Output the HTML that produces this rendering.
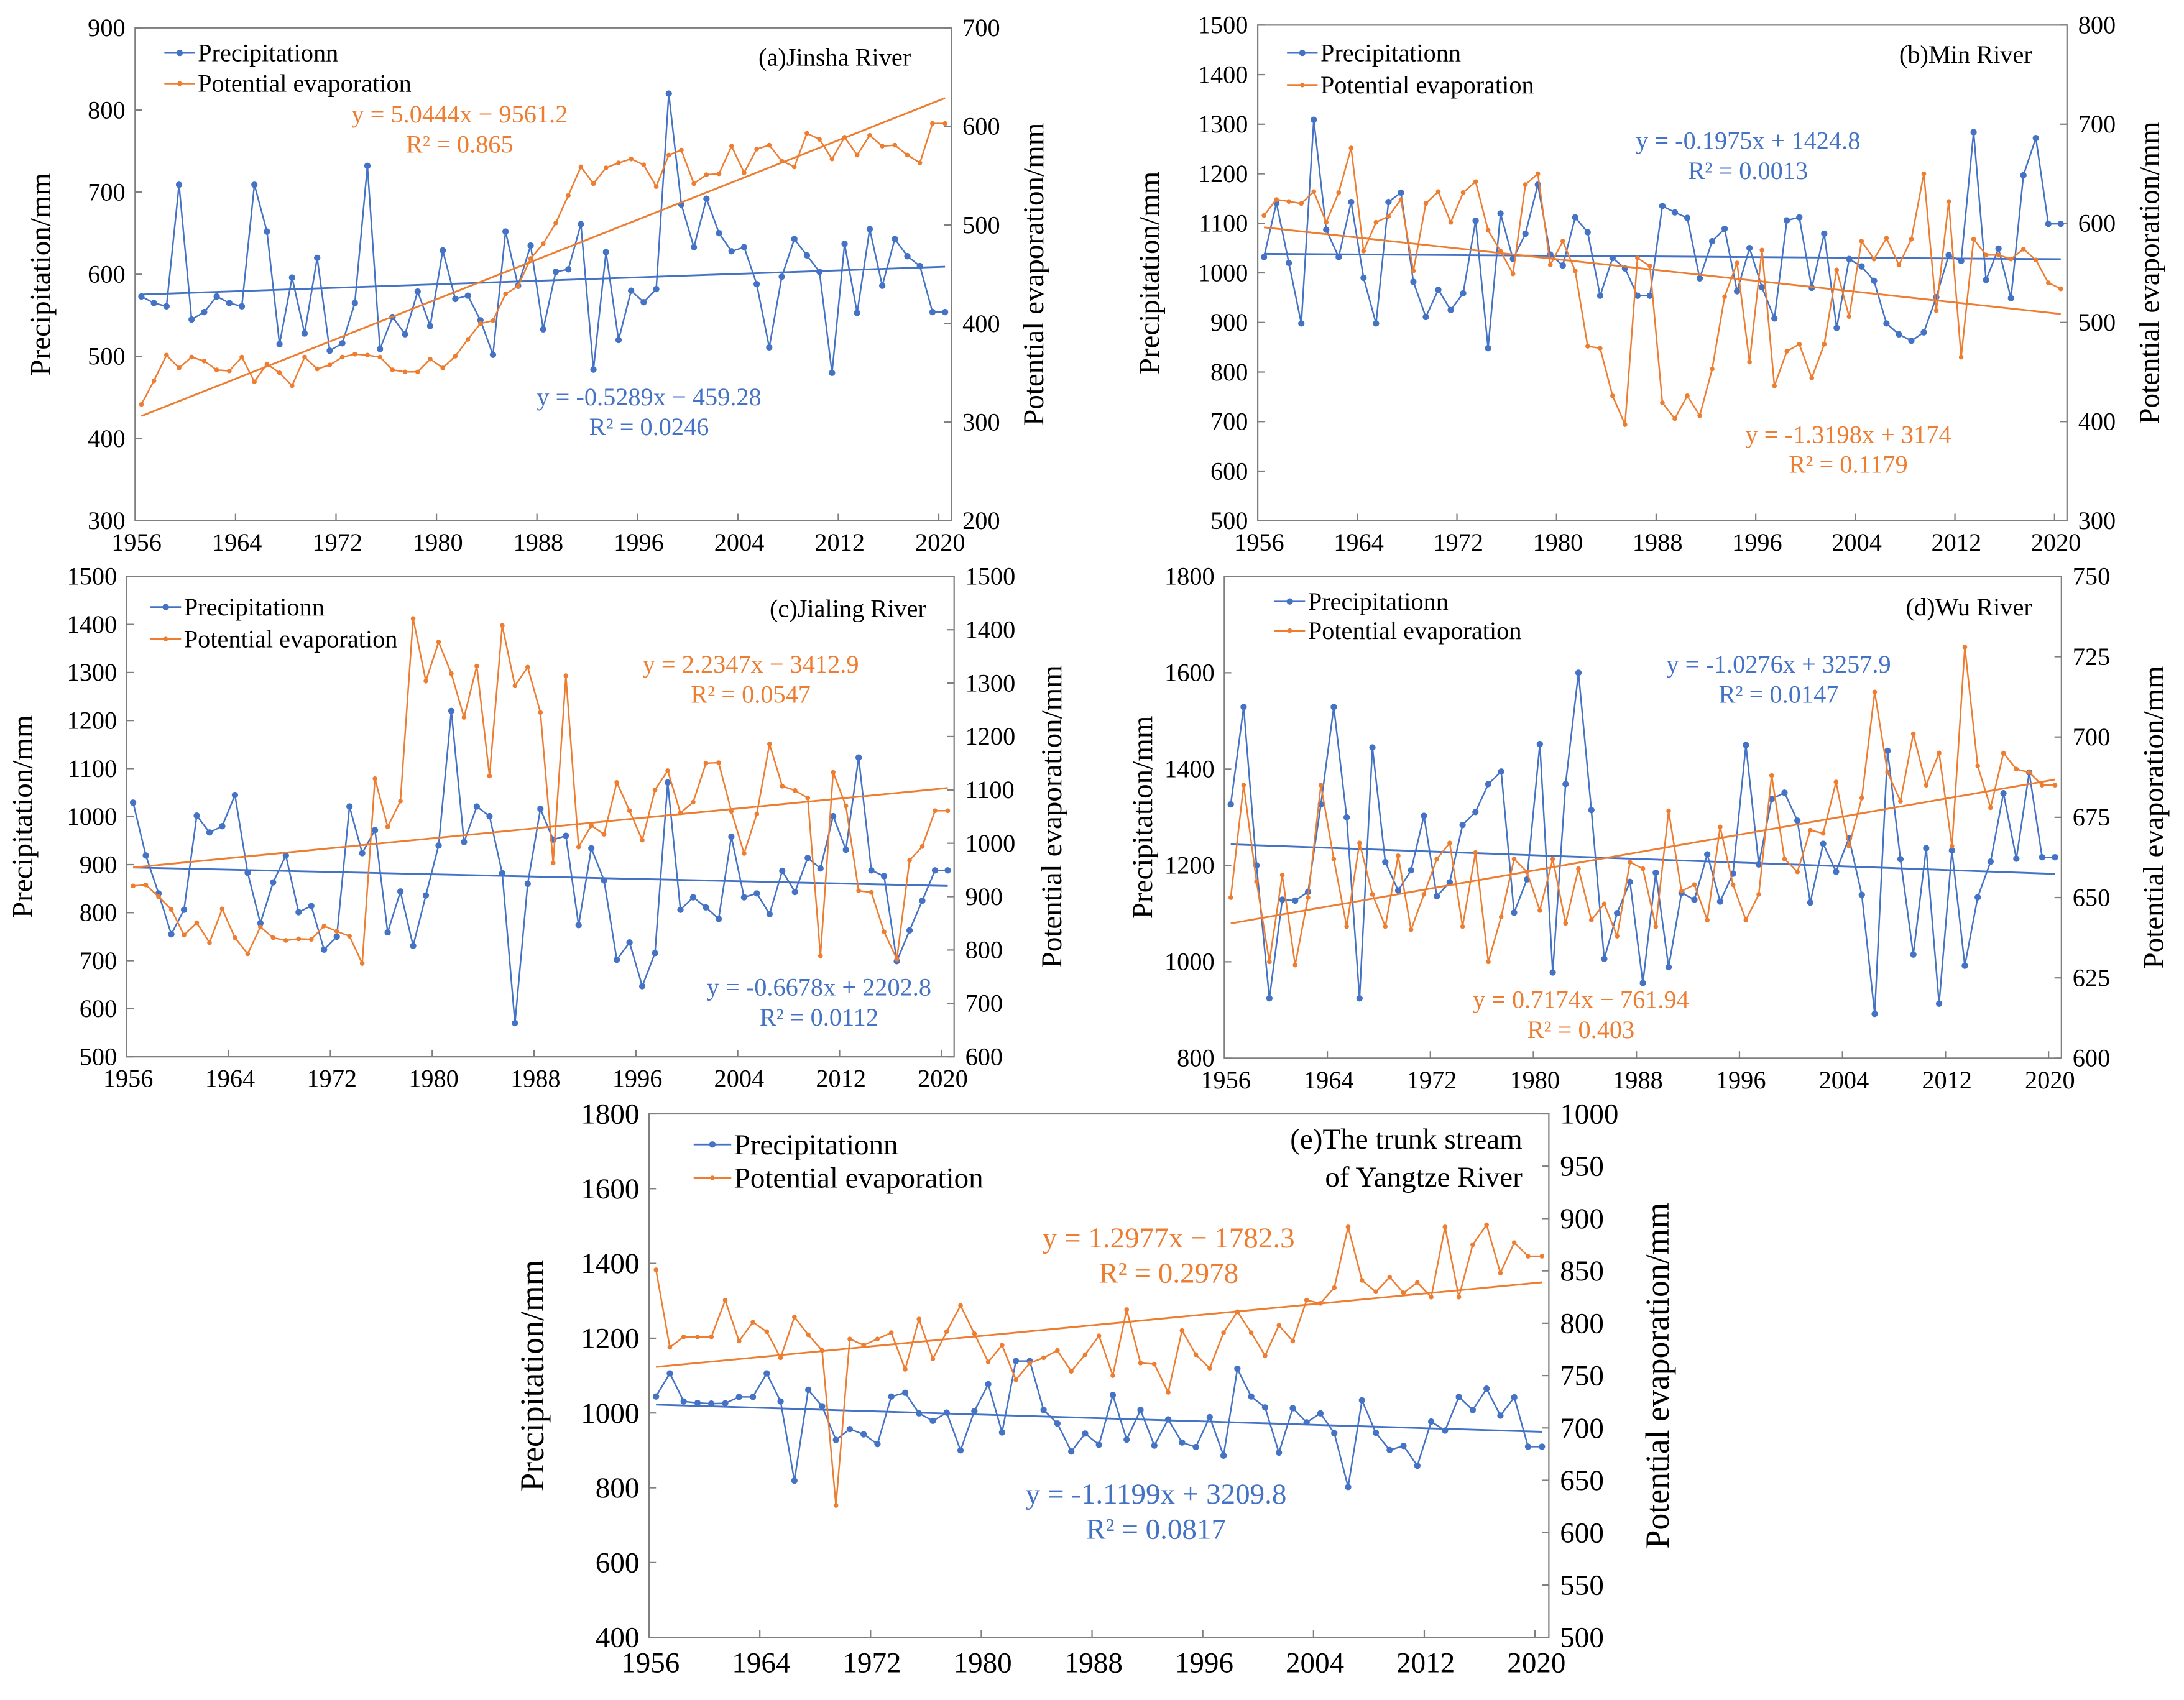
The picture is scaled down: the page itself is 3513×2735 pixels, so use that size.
<!DOCTYPE html>
<html><head><meta charset="utf-8"><style>
html,body{margin:0;padding:0;background:#fff;}
svg{display:block;}
svg text{font-family:"Liberation Serif","Times New Roman",serif;}
</style></head><body>
<svg id="fig" xmlns="http://www.w3.org/2000/svg" width="3513" height="2735" viewBox="0 0 1568 1221" preserveAspectRatio="none" font-family="Liberation Serif, serif"></svg>
<script>
const years = [1956,1957,1958,1959,1960,1961,1962,1963,1964,1965,1966,1967,1968,1969,1970,1971,1972,1973,1974,1975,1976,1977,1978,1979,1980,1981,1982,1983,1984,1985,1986,1987,1988,1989,1990,1991,1992,1993,1994,1995,1996,1997,1998,1999,2000,2001,2002,2003,2004,2005,2006,2007,2008,2009,2010,2011,2012,2013,2014,2015,2016,2017,2018,2019,2020];
const xTickLabels = ['1956','1964','1972','1980','1988','1996','2004','2012','2020'];

const precipA = [573,565,561,709,545,554,573,565,561,709,652,515,596,528,620,507,516,565,732,509,548,527,579,537,629,570,574,544,502,652,586,635,533,603,606,661,484,627,520,580,566,582,820,685,633,692,650,628,633,588,511,597,643,623,603,480,637,553,655,586,643,622,610,554,554];
const evapA = [318,342,368,355,366,362,353,352,366,341,359,350,337,366,354,358,366,369,368,366,353,351,351,364,355,367,384,400,403,430,438,466,481,502,530,559,542,558,563,567,561,539,571,576,542,551,552,580,553,577,581,565,559,593,587,567,589,571,591,580,581,571,563,603,603];
const leftTicksA = [300,400,500,600,700,800,900];
const rightTicksA = [200,300,400,500,600,700];

const precipB = [1032,1141,1020,898,1309,1087,1032,1143,990,898,1143,1162,982,911,966,925,959,1105,848,1120,1028,1079,1178,1037,1015,1112,1082,954,1030,1009,954,954,1135,1122,1111,989,1064,1089,963,1050,971,908,1106,1112,970,1079,889,1028,1013,984,898,876,863,880,951,1036,1024,1284,986,1049,949,1197,1272,1099,1099];
const evapB = [608,624,622,620,632,601,631,676,572,601,607,624,552,620,632,601,631,642,593,572,549,639,650,558,582,552,476,474,426,397,565,557,419,403,426,406,453,526,560,460,573,436,471,478,444,478,553,506,582,564,585,558,584,650,512,622,465,584,568,568,564,574,563,540,534];
const leftTicksB = [500,600,700,800,900,1000,1100,1200,1300,1400,1500];
const rightTicksB = [300,400,500,600,700,800];

const precipC = [1029,919,840,755,806,1002,967,980,1045,883,778,863,919,801,814,723,750,1021,924,972,759,844,731,836,940,1220,947,1021,1001,882,570,860,1016,952,960,774,934,867,702,738,647,716,1071,806,832,811,787,958,832,840,797,887,843,914,892,1001,931,1123,888,876,699,763,825,888,888];
const evapC = [920,922,900,876,828,851,814,877,823,793,843,823,818,821,820,845,835,826,775,1121,1031,1079,1421,1304,1377,1318,1236,1332,1126,1408,1295,1330,1245,963,1314,993,1033,1017,1114,1061,1006,1100,1136,1057,1077,1150,1151,1060,981,1055,1186,1107,1099,1085,789,1133,1070,911,908,834,783,968,994,1061,1061];
const leftTicksC = [500,600,700,800,900,1000,1100,1200,1300,1400,1500];
const rightTicksC = [600,700,800,900,1000,1100,1200,1300,1400,1500];

const precipD = [1327,1529,1200,924,1129,1127,1145,1327,1529,1300,924,1445,1207,1148,1190,1303,1136,1165,1284,1311,1369,1395,1102,1171,1452,978,1369,1600,1315,1006,1101,1166,956,1185,989,1143,1129,1223,1125,1183,1450,1202,1338,1351,1293,1123,1245,1187,1257,1139,892,1438,1213,1015,1236,913,1231,992,1134,1208,1350,1214,1393,1217,1217];
const evapD = [650,685,655,630,657,629,650,685,662,641,667,651,641,663,640,651,662,667,641,664,630,644,662,658,646,662,642,659,643,648,638,661,659,641,677,652,654,643,672,654,643,651,688,662,658,671,670,686,666,681,714,689,680,701,685,695,666,728,691,678,695,690,689,685,685];
const leftTicksD = [800,1000,1200,1400,1600,1800];
const rightTicksD = [600,625,650,675,700,725,750];

const precipE = [1044,1106,1031,1027,1025,1026,1043,1043,1106,1031,819,1062,1018,928,957,943,917,1044,1054,999,979,1001,900,1005,1077,948,1139,1139,1008,972,897,945,915,1048,929,1008,913,983,921,909,989,886,1118,1044,1015,894,1013,975,999,946,802,1034,947,901,912,859,977,953,1043,1008,1065,993,1042,910,910];
const evapE = [851,777,787,787,787,822,783,801,792,767,806,789,774,626,785,779,785,791,756,804,766,792,817,790,763,779,746,762,767,774,754,770,788,750,813,762,761,734,793,770,757,791,811,791,769,798,783,822,819,834,892,841,830,844,829,839,825,892,825,875,894,848,877,864,864];
const leftTicksE = [400,600,800,1000,1200,1400,1600,1800];
const rightTicksE = [500,550,600,650,700,750,800,850,900,950,1000];

const BLUE = '#4472C4', ORANGE = '#ED7D31';
const NS = 'http://www.w3.org/2000/svg';
const svg = document.getElementById('fig');

function mk(tag, attrs, parent, txt) {
  const e = document.createElementNS(NS, tag);
  for (const k in attrs) e.setAttribute(k, attrs[k]);
  if (tag === 'text') e.setAttribute('font-family', 'Liberation Serif, serif');
  if (txt !== undefined) e.textContent = txt;
  (parent || svg).appendChild(e);
  return e;
}

function regress(v) {
  const n = v.length; let sx=0, sy=0, sxx=0, sxy=0;
  v.forEach((y,i)=>{sx+=i;sy+=y;sxx+=i*i;sxy+=i*y;});
  const b = (n*sxy-sx*sy)/(n*sxx-sx*sx); const a = (sy-b*sx)/n;
  return [a,b];
}

function drawChart(c) {
  const g = mk('g', {});
  
  
  const L=c.box[0], T=c.box[1], R=c.box[2], B=c.box[3];
  const step = (R-L)/years.length;
  const xOf = i => L + (i+0.5)*step;
  const lMin=c.lt[0], lMax=c.lt[c.lt.length-1];
  const rMin=c.rt[0], rMax=c.rt[c.rt.length-1];
  const yL = v => B - (v-lMin)/(lMax-lMin)*(B-T);
  const yR = v => B - (v-rMin)/(rMax-rMin)*(B-T);
  const fs = c.fs;
  const frame = mk('rect', {x:L,y:T,width:R-L,height:B-T,fill:'none',stroke:'#7f7f7f','stroke-width':1}, g);
  
  
  c.lt.forEach(v=>{
    const y=yL(v);
    const t=mk('line',{x1:L,x2:L+5,y1:y,y2:y,stroke:'#7f7f7f','stroke-width':1},g);
    
    
    const lb=mk('text',{x:L-7,y:y+fs*0.33,'font-size':fs,'text-anchor':'end',fill:'#000'},g,String(v));
    
    
  });
  c.rt.forEach(v=>{
    const y=yR(v);
    const t=mk('line',{x1:R-5,x2:R,y1:y,y2:y,stroke:'#7f7f7f','stroke-width':1},g);
    
    
    const lb=mk('text',{x:R+8,y:y+fs*0.33,'font-size':fs,'text-anchor':'start',fill:'#000'},g,String(v));
    
    
  });
  xTickLabels.forEach((lab,k)=>{
    const idx = years.indexOf(+lab);
    const x = L + idx*step;
    if (k>0) {
      const t=mk('line',{x1:x,x2:x,y1:B-5,y2:B,stroke:'#7f7f7f','stroke-width':1},g);
      
      
    }
    const lb=mk('text',{x:x+1,y:B+fs*1.2,'font-size':fs,'text-anchor':'middle',fill:'#000'},g,lab);
    
    
  });
  const cy=(T+B)/2;
  const lt=mk('text',{x:c.ltx,y:cy,'font-size':c.tfs,'text-anchor':'middle',transform:`rotate(-90 ${c.ltx} ${cy})`,fill:'#000'},g,'Precipitation/mm');
  
  
  const rtT=mk('text',{x:c.rtx,y:cy,'font-size':c.tfs,'text-anchor':'middle',transform:`rotate(-90 ${c.rtx} ${cy})`,fill:'#000'},g,'Potential evaporation/mm');
  
  

  [[c.p, yL, BLUE, 2.3, 'precipitation'], [c.e, yR, ORANGE, 1.7, 'evaporation']].forEach(([vals, yf, col, r, nm])=>{
    const d = vals.map((v,i)=>(i?'L':'M')+xOf(i).toFixed(2)+' '+yf(v).toFixed(2)).join(' ');
    const pl=mk('path',{d:d,fill:'none',stroke:col,'stroke-width':1.1},g);
    
    
    vals.forEach((v,i)=>{
      const m=mk('circle',{cx:xOf(i),cy:yf(v),r:r,fill:col},g);
      
      
    });
    const [a,b]=regress(vals);
    const n=vals.length-1;
    const tl=mk('line',{x1:xOf(0),y1:yf(a),x2:xOf(n),y2:yf(a+b*n),stroke:col,'stroke-width':1.3},g);
    
    
  });

  const lg = mk('g',{},g);
  
  
  [[BLUE,'Precipitationn',2.3],[ORANGE,'Potential evaporation',1.7]].forEach(([col,lab,r],k)=>{
    const y=c.leg[1]+k*c.legdy;
    mk('line',{x1:c.leg[0],x2:c.leg[0]+c.legw,y1:y,y2:y,stroke:col,'stroke-width':1.2},lg);
    mk('circle',{cx:c.leg[0]+c.legw/2,cy:y,r:r,fill:col},lg);
    const t=mk('text',{x:c.leg[0]+c.legw+2,y:y+c.lfs*0.33,'font-size':c.lfs,fill:'#000'},lg,lab);
    
    
  });
  c.title.forEach((s,k)=>{
    const t=mk('text',{x:c.tpos[0],y:c.tpos[1]+k*c.lfs*1.3,'font-size':c.lfs,'text-anchor':'end',fill:'#000'},g,s);
    
    
  });
  c.eqs.forEach(([col,x,y,l1,l2])=>{
    const t1=mk('text',{x:x,y:y,'font-size':c.efs,'text-anchor':'middle',fill:col},g,l1);
    
    
    const t2=mk('text',{x:x,y:y+c.efs*1.2,'font-size':c.efs,'text-anchor':'middle',fill:col},g,l2);
    
    
  });
}

drawChart({name:'chart-a-jinsha', box:[97,20,683,374], p:precipA, e:evapA, lt:leftTicksA, rt:rightTicksA, fs:18, tfs:21, ltx:36, rtx:749,
  leg:[118,38], legdy:22, legw:22, lfs:18, title:['(a)Jinsha River'], tpos:[654,47], efs:18,
  eqs:[[ORANGE,330,88,'y = 5.0444x − 9561.2','R² = 0.865'],[BLUE,466,291,'y = -0.5289x − 459.28','R² = 0.0246']]});
drawChart({name:'chart-b-min', box:[903,18,1484,374], p:precipB, e:evapB, lt:leftTicksB, rt:rightTicksB, fs:18, tfs:21, ltx:832, rtx:1550,
  leg:[924,38], legdy:23, legw:22, lfs:18, title:['(b)Min River'], tpos:[1459,45], efs:18,
  eqs:[[BLUE,1255,107,'y = -0.1975x + 1424.8','R² = 0.0013'],[ORANGE,1327,318,'y = -1.3198x + 3174','R² = 0.1179']]});
drawChart({name:'chart-c-jialing', box:[91,414,685,759], p:precipC, e:evapC, lt:leftTicksC, rt:rightTicksC, fs:18, tfs:21, ltx:23, rtx:762,
  leg:[108,436], legdy:23, legw:22, lfs:18, title:['(c)Jialing River'], tpos:[665,443], efs:18,
  eqs:[[ORANGE,539,483,'y = 2.2347x − 3412.9','R² = 0.0547'],[BLUE,588,715,'y = -0.6678x + 2202.8','R² = 0.0112']]});
drawChart({name:'chart-d-wu', box:[879,414,1480,760], p:precipD, e:evapD, lt:leftTicksD, rt:rightTicksD, fs:18, tfs:21, ltx:827, rtx:1553,
  leg:[915,432], legdy:21, legw:22, lfs:18, title:['(d)Wu River'], tpos:[1459,442], efs:18,
  eqs:[[BLUE,1277,483,'y = -1.0276x + 3257.9','R² = 0.0147'],[ORANGE,1135,724,'y = 0.7174x − 761.94','R² = 0.403']]});
drawChart({name:'chart-e-yangtze-trunk', box:[466,800,1112,1176], p:precipE, e:evapE, lt:leftTicksE, rt:rightTicksE, fs:21, tfs:24, ltx:390, rtx:1198,
  leg:[498,822], legdy:24, legw:27, lfs:21, title:['(e)The trunk stream','of Yangtze River'], tpos:[1093,825], efs:21,
  eqs:[[ORANGE,839,896,'y = 1.2977x − 1782.3','R² = 0.2978'],[BLUE,830,1080,'y = -1.1199x + 3209.8','R² = 0.0817']]});
</script>
</body></html>
